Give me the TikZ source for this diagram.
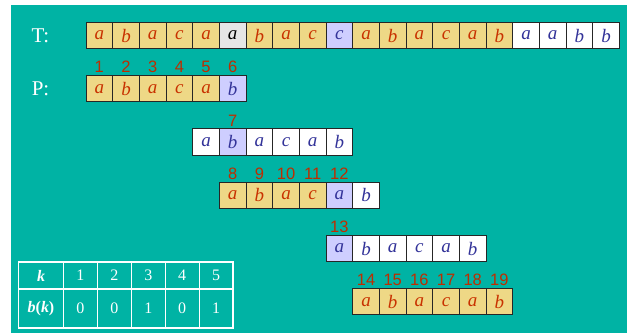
\documentclass[tikz,border=0pt]{standalone}
\usepackage{fontspec}
\setmainfont{Liberation Serif}
\newfontfamily\numfont{Liberation Sans}
\usetikzlibrary{positioning}
\definecolor{bgteal}{RGB}{0,179,164}
\definecolor{celly}{RGB}{238,216,134}
\definecolor{celll}{RGB}{206,206,255}
\definecolor{cellg}{RGB}{230,230,230}
\definecolor{letred}{RGB}{200,50,0}
\definecolor{letblue}{RGB}{51,51,153}
\definecolor{numred}{RGB}{190,45,0}
\tikzset{
  cell/.style={draw=black!85, line width=1pt, minimum width=26.67pt,
               minimum height=26.4pt, inner sep=0pt,
               font=\fontsize{19}{19}\selectfont\itshape},
  yel/.style ={cell, fill=celly, text=letred},
  lav/.style ={cell, fill=celll, text=letblue},
  gry/.style ={cell, fill=cellg, text=black},
  wht/.style ={cell, fill=white, text=letblue},
  num/.style ={font=\numfont\fontsize{16.5}{17}\selectfont, text=numred,
               inner sep=0pt},
  lbl/.style ={font=\fontsize{21}{21}\selectfont, text=white, inner sep=0pt},
  tcell/.style={draw=white, line width=1.2pt, minimum width=33.9pt,
                minimum height=27pt, inner sep=0pt, text=white,
                font=\fontsize{16}{16}\selectfont},
}
% #1 name, #2 shift (cells), #3 y of centre, #4 style/letter list
\newcommand{\patrow}[4]{%
  \foreach \s/\l [count=\i] in {#4}
    \node[\s] (#1\i) at ({86+(#2+\i-0.5)*26.67},#3) {\l};
}

\begin{document}
\begin{tikzpicture}[x=1pt,y=-1pt]
  \useasboundingbox (0,0) rectangle (627,333);
  \fill[bgteal] (10.5,4.7) rectangle (627,333);

  % text and pattern
  \patrow{t}{0}{35.5}{yel/a,yel/b,yel/a,yel/c,yel/a,gry/a,yel/b,yel/a,yel/c,lav/c,
                      yel/a,yel/b,yel/a,yel/c,yel/a,yel/b,wht/a,wht/a,wht/b,wht/b}
  \patrow{p}{0}{88.7}{yel/a,yel/b,yel/a,yel/c,yel/a,lav/b}
  \node[lbl, left=36pt of t1] (tl) {T:};
  \node[lbl, left=36pt of p1] (pl) {P:};

  % shifts of the pattern
  \patrow{ma}{4}{142}{wht/a,lav/b,wht/a,wht/c,wht/a,wht/b}
  \patrow{mb}{5}{195.3}{yel/a,yel/b,yel/a,yel/c,lav/a,wht/b}
  \patrow{mc}{9}{248.5}{lav/a,wht/b,wht/a,wht/c,wht/a,wht/b}
  \patrow{md}{10}{301.7}{yel/a,yel/b,yel/a,yel/c,yel/a,yel/b}

  % comparison numbers
  \foreach \n [count=\i] in {1,...,6}
    \node[num, above=2pt of p\i] (np\i) {\n};
  \node[num, above=2pt of ma2] (nma) {7};
  \foreach \n [count=\i] in {8,...,12}
    \node[num, above=2pt of mb\i] (nmb\i) {\n};
  \node[num, above=2pt of mc1] (nmc) {13};
  \foreach \n [count=\i] in {14,...,19}
    \node[num, above=2pt of md\i] (nmd\i) {\n};

  % table of b(k)
  \node[tcell, minimum width=45pt] (kh) at (41,275.5) {\bfseries\itshape k};
  \node[tcell, minimum width=45pt, minimum height=39pt] (bh) at (41,308.5)
    {\bfseries\itshape b\/\upshape(\itshape k\/\upshape)};
  \foreach \v/\b [count=\j] in {1/0,2/0,3/1,4/0,5/1} {
    \node[tcell] (k\j) at ({63.5+(\j-0.5)*33.9},275.5) {\v};
    \node[tcell, minimum height=39pt] (b\j) at ({63.5+(\j-0.5)*33.9},308.5) {\b};
  }
\end{tikzpicture}
\end{document}
